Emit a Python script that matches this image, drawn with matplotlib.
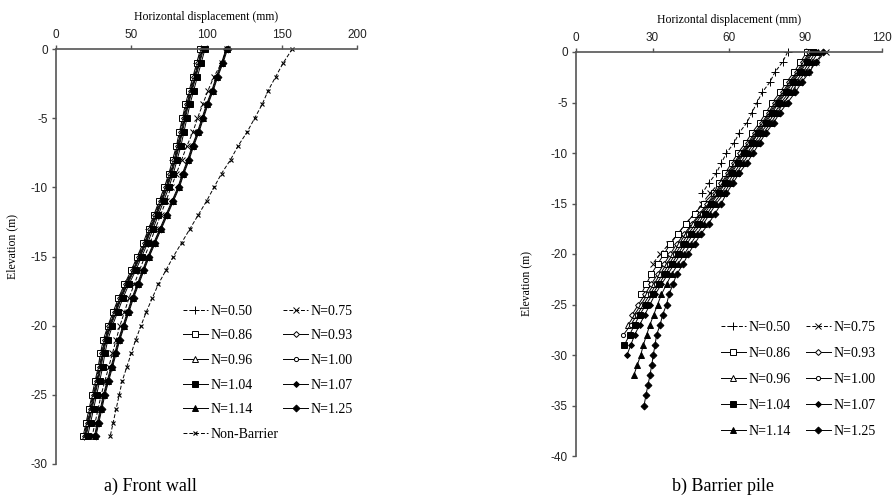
import matplotlib
matplotlib.use("Agg")
import matplotlib.pyplot as plt

plt.rcParams['axes.unicode_minus'] = False

###################### Data ######################

# a) Front wall, elevations 0 .. -28 m (1 m step), displacement in mm
front_N050 = [96.5, 94, 91.5, 89, 86.5, 84.5, 82.5, 80.5, 78, 75.5, 72.5, 69, 65.5, 62, 58.5,
              54.5, 50.5, 46, 42, 38.5, 35, 32, 30, 28.5, 26.5, 24.5, 22.5, 20.5, 18.5]
front_N075 = [113.5, 110, 105, 101, 97.5, 94, 91, 87, 83.5, 80, 76.5, 73, 69.5, 66, 62.5,
              59, 55.5, 52, 48.5, 45.5, 42.5, 40, 37.5, 35, 32.5, 30, 28, 26, 24]
front_N086 = [96, 93.5, 91, 88.5, 86, 84, 82, 80, 77.5, 75, 72, 68.5, 65, 61.5, 58,
              54, 50, 45.5, 41.5, 38, 34.5, 31.5, 29.5, 28, 26, 24, 22, 20, 18]
front_N093 = [97, 94.5, 92, 89.5, 87, 85, 83, 81, 78.5, 76, 73, 69.5, 66, 62.5, 59,
              55, 51, 46.5, 42.5, 39, 35.5, 32.5, 30.5, 29, 27, 25, 23, 21, 19]
front_N096 = [97.5, 95, 92.5, 90, 87.5, 85.5, 83.5, 81.5, 79, 76.5, 73.5, 70, 66.5, 63, 59.5,
              55.5, 51.5, 47, 43, 39.5, 36, 33, 31, 29.5, 27.5, 25.5, 23.5, 21.5, 19.5]
front_N100 = [98, 95.5, 93, 90.5, 88, 86, 84, 82, 79.5, 77, 74, 70.5, 67, 63.5, 60,
              56, 52, 47.5, 43.5, 40, 36.5, 33.5, 31.5, 30, 28, 26, 24, 22, 20]
front_N104 = [99, 96.5, 94, 91.5, 89, 87, 85, 83, 80.5, 78, 75, 71.5, 68, 64.5, 61,
              57, 53, 48.5, 44.5, 41, 37.5, 34.5, 32.5, 31, 29, 27, 25, 23, 21]
front_N107 = [113, 110, 106.5, 103.5, 100, 97, 94, 90.5, 87.5, 84, 81, 77, 73, 69, 65,
              61, 57.5, 54, 50.5, 47.5, 44.5, 41.5, 39, 36.5, 34, 31.5, 29.5, 27.5, 25.5]
front_N114 = [113.5, 110.5, 107, 104, 100.5, 97.5, 94.5, 91, 88, 84.5, 81.5, 77.5, 73.5, 69.5, 65.5,
              61.5, 58, 54.5, 51, 48, 45, 42, 39.5, 37, 34.5, 32, 30, 28, 26]
front_N125 = [114, 111, 107.5, 104.5, 101, 98, 95, 91.5, 88.5, 85, 82, 78, 74, 70, 66,
              62, 58.5, 55, 51.5, 48.5, 45.5, 42.5, 40, 37.5, 35, 32.5, 30.5, 28.5, 26.5]
front_nonbarrier = [157, 151, 146, 141, 137, 132, 127, 121, 116, 110, 105, 100, 94.5, 89, 83.5,
                    78, 73, 68, 64, 60, 56.5, 53, 50, 47, 44, 42, 40, 38, 36]

# b) Barrier pile, elevations 0 .. -L m (1 m step), displacement in mm
pile_N050 = [83, 81, 78, 76, 73, 71, 69, 67, 64, 62, 59, 57, 55, 52, 49.5]
pile_N075 = [98, 94, 91, 88, 84.5, 81.5, 78, 75, 72, 68.5, 65.5, 62, 59, 56, 52.5,
             49.5, 46.5, 43, 40, 36.5, 33, 30]
pile_N086 = [90.5, 88, 85.5, 82.5, 80, 77, 74.5, 72, 69, 66.5, 63.5, 61, 58.5, 56, 54,
             50, 46.5, 43, 40, 37, 34.5, 32, 29.5, 27.5, 25.5]
pile_N093 = [91.5, 89, 86.5, 83.5, 81, 78, 75.5, 73, 70, 67.5, 64.5, 62, 59.5, 57, 54.5,
             51.5, 48.5, 45.5, 42.5, 39.5, 37, 34.5, 32, 29.5, 27, 24.5, 22]
pile_N096 = [92, 89.5, 87, 84, 81.5, 78.5, 76, 73.5, 70.5, 68, 65, 62.5, 60, 57.5, 55,
             52, 49, 46, 43, 40.5, 38, 35.5, 33, 30.5, 28, 25.5, 23, 20.5]
pile_N100 = [92.5, 90, 87.5, 84.5, 82, 79, 76.5, 74, 71, 68.5, 65.5, 63, 60.5, 58, 55.5,
             52.5, 49.5, 47, 44, 41.5, 39, 36.5, 34, 31.5, 29, 26.5, 24, 21.5, 18.6]
pile_N104 = [93, 90.5, 88, 85, 82.5, 79.5, 77, 74.5, 71.5, 69, 66, 63.5, 61, 58.5, 56,
             53, 50.5, 48, 45, 42.5, 40, 37.5, 35, 32.5, 30, 27.5, 25, 23, 21, 19]
pile_N107 = [94, 91.5, 89, 86, 83.5, 80.5, 78, 75.5, 72.5, 70, 67, 64.5, 62, 59.5, 57,
             54, 51.5, 49, 46, 43.5, 41, 38.5, 36, 33.5, 31, 29, 27, 25, 23, 21.5, 20]
pile_N114 = [95, 92.5, 90, 87, 84.5, 81.5, 79, 76.5, 73.5, 71, 68, 65.5, 63, 60.5, 58,
             55, 52.5, 50, 47.5, 45, 42.5, 40, 37.5, 35.5, 33.5, 32, 30.5, 29, 27.7, 26.4,
             25.4, 24, 22.7]
pile_N125 = [97, 94, 91.5, 88.5, 86, 83, 80, 77.5, 74.5, 72, 69.5, 67, 64, 61.5, 59,
             57, 54.5, 52, 49, 46.5, 44, 42, 39.5, 38, 36.5, 35.5, 34, 33, 31.6, 31,
             30.3, 29.7, 29, 28.2, 27.4, 26.7]

elev_all = list(range(0, -36, -1))

labels = ['N=0.50', 'N=0.75', 'N=0.86', 'N=0.93', 'N=0.96', 'N=1.00',
          'N=1.04', 'N=1.07', 'N=1.14', 'N=1.25']
front_series = [front_N050, front_N075, front_N086, front_N093, front_N096, front_N100,
                front_N104, front_N107, front_N114, front_N125]
pile_series = [pile_N050, pile_N075, pile_N086, pile_N093, pile_N096, pile_N100,
               pile_N104, pile_N107, pile_N114, pile_N125]

# marker / line style per N (same order as labels)
styles = [
    dict(marker='+', ls=(0, (4, 2)), mfc='k', ms=6),
    dict(marker='x', ls=(0, (4, 2)), mfc='k', ms=5),
    dict(marker='s', ls='-', mfc='white', ms=4),
    dict(marker='D', ls='-', mfc='white', ms=3),
    dict(marker='^', ls='-', mfc='white', ms=4),
    dict(marker='o', ls='-', mfc='white', ms=3),
    dict(marker='s', ls='-', mfc='k', ms=4),
    dict(marker='D', ls='-', mfc='k', ms=3),
    dict(marker='^', ls='-', mfc='k', ms=4),
    dict(marker='D', ls='-', mfc='k', ms=3.5),
]

SERIF = 'Liberation Serif'
SANS = 'Liberation Sans'
AXC = '#555555'

####################### Plotting ######################
fig = plt.figure(figsize=(8.92, 5.0), dpi=100)
ax1 = fig.add_axes([56/892, 1-464/500, 301/892, 415/500])
ax2 = fig.add_axes([576/892, 1-456/500, 306/892, 404/500])


def style_axes(ax, xmax, xstep, ymin):
    ax.set_xlim(0, xmax)
    ax.set_ylim(ymin, 0)
    ax.set_xticks(range(0, xmax + 1, xstep))
    ax.set_yticks(range(ymin, 1, 5))
    ax.xaxis.tick_top()
    ax.xaxis.set_label_position('top')
    for s in ['bottom', 'right']:
        ax.spines[s].set_visible(False)
    for s in ['top', 'left']:
        ax.spines[s].set_color(AXC)
        ax.spines[s].set_linewidth(1.2)
    ax.tick_params(direction='out', length=3, width=1, color=AXC,
                   labelsize=8.5, labelcolor='#222222', pad=3)
    for t in ax.get_xticklabels() + ax.get_yticklabels():
        t.set_fontfamily(SANS)
    ax.set_xlabel('Horizontal displacement (mm)', fontfamily=SERIF, fontsize=8.5, labelpad=6)
    ax.set_ylabel('Elevation (m)', fontfamily=SERIF, fontsize=8.5)


style_axes(ax1, 200, 50, -30)
style_axes(ax2, 120, 30, -40)
# y-label positions as in the original
ax1.yaxis.set_label_coords((18 - 56) / 301, (464 - 246) / 415)
ax2.yaxis.set_label_coords((532 - 576) / 306, (456 - 283) / 404)

handles1 = []
for lab, vals, st in zip(labels, front_series, styles):
    h, = ax1.plot(vals, elev_all[:len(vals)], color='k', lw=0.7, mec='k', mew=0.7,
                  clip_on=False, label=lab, **st)
    handles1.append(h)
hnb, = ax1.plot(front_nonbarrier, elev_all[:len(front_nonbarrier)], color='k', lw=0.7,
                ls=(0, (4, 2)), marker='x', ms=3, mew=0.8, clip_on=False, label='Non-Barrier')

handles2 = []
for lab, vals, st in zip(labels, pile_series, styles):
    h, = ax2.plot(vals, elev_all[:len(vals)], color='k', lw=0.7, mec='k', mew=0.7,
                  clip_on=False, label=lab, **st)
    handles2.append(h)

# legends: matplotlib fills columns first
order1 = [handles1[0], handles1[2], handles1[4], handles1[6], handles1[8], hnb,
          handles1[1], handles1[3], handles1[5], handles1[7], handles1[9]]
order2 = [handles2[0], handles2[2], handles2[4], handles2[6], handles2[8],
          handles2[1], handles2[3], handles2[5], handles2[7], handles2[9]]

leg_kw = dict(ncol=2, loc='upper left', frameon=False, bbox_transform=fig.transFigure,
              prop={'family': SERIF, 'size': 10}, handlelength=1.8, handletextpad=0.2,
              borderaxespad=0)
ax1.legend(handles=order1, bbox_to_anchor=(177/892, 1-299/500),
           columnspacing=0.35, labelspacing=0.84, **leg_kw)
ax2.legend(handles=order2, bbox_to_anchor=(715/892, 1-315/500),
           columnspacing=1.1, labelspacing=0.95, **leg_kw)

fig.text(150/892, 1-486/500, 'a) Front wall', ha='center', va='center',
         fontfamily=SERIF, fontsize=13)
fig.text(723/892, 1-486/500, 'b) Barrier pile', ha='center', va='center',
         fontfamily=SERIF, fontsize=13)

fig.savefig('out.png', dpi=100)
